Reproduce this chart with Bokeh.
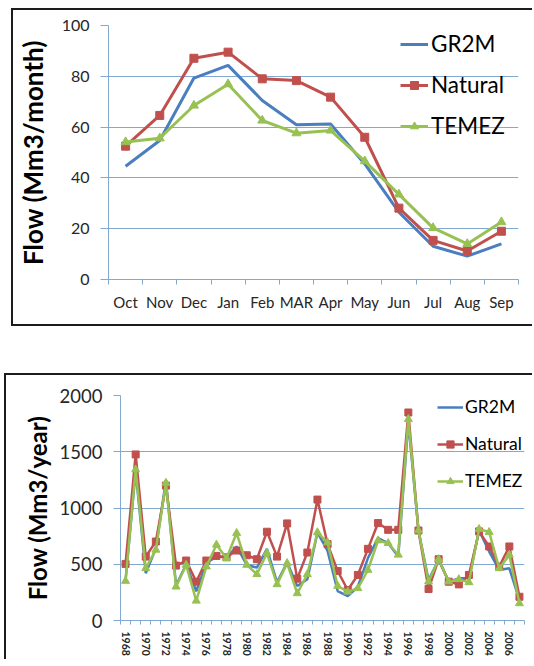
from bokeh.plotting import figure
from bokeh.models import (ColumnDataSource, Range1d, FixedTicker, CustomJSTickFormatter,
                          Legend, LegendItem, Spacer)
from bokeh.layouts import column, row
from bokeh.embed import file_html
from bokeh.resources import INLINE

# ---------------- data ----------------
months = ["Oct", "Nov", "Dec", "Jan", "Feb", "MAR", "Apr", "May", "Jun", "Jul", "Aug", "Sep"]
gr2m_month = [44.6, 54.7, 79.3, 84.3, 70.5, 60.9, 61.2, 45.5, 26.5, 13.1, 9.2, 14.0]
natural_month = [52.5, 64.6, 87.1, 89.5, 79.0, 78.3, 71.8, 56.0, 28.1, 15.4, 11.2, 19.0]
temez_month = [54.1, 55.6, 68.5, 76.9, 62.6, 57.6, 58.7, 46.6, 33.5, 20.3, 14.0, 22.6]
month_yticks = [0, 20, 40, 60, 80, 100]

years = [1968, 1969, 1970, 1971, 1972, 1973, 1974, 1975, 1976, 1977,
         1978, 1979, 1980, 1981, 1982, 1983, 1984, 1985, 1986, 1987,
         1988, 1989, 1990, 1991, 1992, 1993, 1994, 1995, 1996, 1997,
         1998, 1999, 2000, 2001, 2002, 2003, 2004, 2005, 2006, 2007]
gr2m_year = [360, 1330, 420, 640, 1244, 310, 500, 260, 510, 570,
             560, 658, 494, 470, 637, 340, 515, 306, 366, 783,
             619, 262, 217, 300, 554, 732, 687, 570, 1760, 800,
             360, 540, 345, 375, 375, 800, 613, 449, 464, 182]
natural_year = [503, 1476, 568, 702, 1199, 488, 533, 345, 533, 574,
                562, 622, 580, 545, 789, 568, 863, 372, 604, 1075,
                679, 440, 271, 405, 637, 866, 806, 806, 1849, 800,
                280, 545, 345, 321, 405, 792, 658, 479, 658, 211]
temez_year = [351, 1342, 464, 628, 1223, 300, 494, 175, 479, 673,
              554, 777, 494, 411, 598, 321, 509, 241, 411, 783,
              693, 307, 256, 286, 449, 711, 687, 584, 1790, 800,
              345, 545, 345, 366, 339, 812, 786, 464, 583, 152]
year_yticks = [0, 500, 1000, 1500, 2000]

BLUE = "#4A7EBF"
RED = "#C0504D"
GREEN = "#98C153"
GRID = "#82A9D0"
FONT = "Lato"
EDGE = "2px solid #1c1c1c"


def style_axes(p, n, label_every, xfs, xbold, yfs, title, tfs, ytick_out):
    # x axis: labels at category centres, tick marks between categories
    ax = p.xaxis[0]
    ax.ticker = FixedTicker(ticks=[i + 0.5 for i in range(0, n, label_every)],
                            minor_ticks=list(range(n + 1)))
    ax.major_tick_line_color = None
    ax.minor_tick_line_color = GRID
    ax.minor_tick_out = 5
    ax.minor_tick_in = 0
    ax.axis_line_color = GRID
    ax.major_label_text_font = FONT
    ax.major_label_text_font_size = xfs
    ax.major_label_text_font_style = "bold" if xbold else "normal"
    ax.major_label_text_color = "#262626"
    # y axis
    ay = p.yaxis[0]
    ay.axis_line_color = GRID
    ay.major_tick_line_color = GRID
    ay.major_tick_out = ytick_out
    ay.major_tick_in = 0
    ay.minor_tick_line_color = None
    ay.major_label_text_font = FONT
    ay.major_label_text_font_size = yfs
    ay.major_label_text_color = "#262626"
    ay.major_label_standoff = 11
    ay.axis_label = title
    ay.axis_label_text_font = FONT
    ay.axis_label_text_font_size = tfs
    ay.axis_label_text_font_style = "bold"
    ay.axis_label_text_color = "#000000"
    p.xgrid.grid_line_color = None
    p.ygrid.grid_line_color = GRID
    p.ygrid.grid_line_width = 1
    p.outline_line_color = None


# ---------------- top chart: monthly ----------------
src_m = ColumnDataSource(dict(x=[i + 0.5 for i in range(len(months))], month=months,
                              gr2m=gr2m_month, natural=natural_month, temez=temez_month))
p1 = figure(width=521, height=318, output_backend="svg", toolbar_location=None,
            x_range=Range1d(0, len(months)), y_range=Range1d(0, 100),
            min_border_left=92, min_border_right=16, min_border_top=15, min_border_bottom=49,
            background_fill_color="white", border_fill_color="white",
            styles={"border-left": EDGE, "border-top": EDGE, "border-bottom": EDGE})
p1.yaxis.ticker = FixedTicker(ticks=month_yticks)
style_axes(p1, len(months), 1, "15px", False, "16px", "Flow (Mm3/month)", "26px", 8)
p1.xaxis.major_label_standoff = 7
p1.yaxis.axis_label_standoff = 10
p1.xaxis.formatter = CustomJSTickFormatter(args=dict(labels=months),
                                           code="return labels[Math.floor(tick)] || '';")

r1 = p1.line("x", "gr2m", source=src_m, color=BLUE, line_width=3)
r2 = p1.line("x", "natural", source=src_m, color=RED, line_width=3)
r2m = p1.scatter("x", "natural", source=src_m, marker="square", size=8, color=RED)
r3 = p1.line("x", "temez", source=src_m, color=GREEN, line_width=3)
r3m = p1.scatter("x", "temez", source=src_m, marker="triangle", size=9, color=GREEN)

leg1 = Legend(items=[LegendItem(label="GR2M", renderers=[r1]),
                     LegendItem(label="Natural", renderers=[r2, r2m]),
                     LegendItem(label="TEMEZ", renderers=[r3, r3m])],
              location=(292, 140), padding=0, margin=0, spacing=14,
              glyph_width=28, glyph_height=20, label_height=20, label_standoff=3,
              label_text_font=FONT, label_text_font_size="22.5px", label_text_color="#000000",
              border_line_color=None, background_fill_alpha=0)
p1.add_layout(leg1)

# ---------------- bottom chart: annual ----------------
src_y = ColumnDataSource(dict(x=[i + 0.5 for i in range(len(years))], year=years,
                              gr2m=gr2m_year, natural=natural_year, temez=temez_year))
p2 = figure(width=528, height=286, output_backend="svg", toolbar_location=None,
            x_range=Range1d(0, len(years)), y_range=Range1d(0, 2000),
            min_border_left=114, min_border_right=10, min_border_top=20, min_border_bottom=41,
            background_fill_color="white", border_fill_color="white",
            styles={"border-left": EDGE, "border-top": EDGE})
p2.yaxis.ticker = FixedTicker(ticks=year_yticks)
style_axes(p2, len(years), 2, "10.5px", True, "18.5px", "Flow (Mm3/year)", "24px", 7)
p2.xaxis.minor_tick_out = 4
p2.xaxis.major_label_orientation = "vertical"
p2.xaxis.major_label_standoff = 5
p2.yaxis.axis_label_standoff = 5
p2.xaxis.formatter = CustomJSTickFormatter(args=dict(labels=[str(y) for y in years]),
                                           code="return labels[Math.floor(tick)] || '';")

q1 = p2.line("x", "gr2m", source=src_y, color=BLUE, line_width=2.5)
q2 = p2.line("x", "natural", source=src_y, color=RED, line_width=2.5)
q2m = p2.scatter("x", "natural", source=src_y, marker="square", size=7, color=RED)
q3 = p2.line("x", "temez", source=src_y, color=GREEN, line_width=2.5)
q3m = p2.scatter("x", "temez", source=src_y, marker="triangle", size=8, color=GREEN)

leg2 = Legend(items=[LegendItem(label="GR2M", renderers=[q1]),
                     LegendItem(label="Natural", renderers=[q2, q2m]),
                     LegendItem(label="TEMEZ", renderers=[q3, q3m])],
              location=(317, 129), padding=0, margin=0, spacing=16,
              glyph_width=26, glyph_height=18, label_height=18, label_standoff=2,
              label_text_font=FONT, label_text_font_size="17.5px", label_text_color="#000000",
              border_line_color=None, background_fill_alpha=0)
p2.add_layout(leg2)

layout = column(Spacer(height=8),
                row(Spacer(width=11), p1),
                Spacer(height=47),
                row(Spacer(width=4), p2))
open("out.html", "w").write(file_html(layout, INLINE))
